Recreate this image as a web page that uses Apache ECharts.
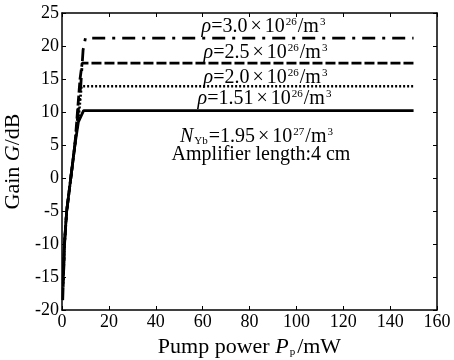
<!DOCTYPE html>
<html><head><meta charset="utf-8">
<script src="https://cdn.jsdelivr.net/npm/echarts@6/dist/echarts.min.js"></script>
<style>html,body{margin:0;padding:0;background:#fff}#c{width:454px;height:360px}</style>
</head><body><div id="c"></div>
<script>
// Data
var pump151 = [0.5, 1, 2, 5.5, 7, 9.2, 150];
var gain151 = [-15.5, -10, -5, 5, 8.5, 10.2, 10.2];
var pump20 = [0.5, 1, 2, 5.5, 7.3, 8.3, 150];
var gain20 = [-16, -10, -5, 5, 10, 13.9, 13.9];
var pump25 = [0.5, 1, 2, 5.5, 7.7, 8.6, 150];
var gain25 = [-16.5, -10.5, -5, 5, 15, 17.4, 17.4];
var pump30 = [0.3, 1, 2, 5.5, 8, 9, 10, 150];
var gain30 = [-18.5, -10.5, -5, 5, 14, 19.4, 21.2, 21.2];
var xTicks = {min: 0, max: 160, interval: 20};
var yTicks = {min: -20, max: 25, interval: 5};

function pairs(xs, ys){ return xs.map(function(x,i){return [x, ys[i]];}); }
var F = '"Liberation Serif", "Times New Roman", serif';
var chart = echarts.init(document.getElementById('c'), null, {renderer:'canvas'});
var axisCommon = {
  axisLine:{show:true, onZero:false, lineStyle:{color:'#000', width:1.5}},
  axisTick:{show:true, inside:true, length:4, lineStyle:{color:'#000', width:1}},
  splitLine:{show:false}
};
var richName = {
  it:{fontFamily:F, fontStyle:'italic', fontSize:22, color:'#000'},
  n:{fontFamily:F, fontSize:22, color:'#000'},
  sub:{fontFamily:F, fontSize:11, color:'#000', verticalAlign:'bottom', lineHeight:18, padding:[0,2,0,1]}
};
var rich = {
  it:{fontFamily:F, fontStyle:'italic', fontSize:20, color:'#000'},
  n:{fontFamily:F, fontSize:20, color:'#000'},
  x:{fontFamily:F, fontSize:20, color:'#000', padding:[0,3,0,3]},
  sup:{fontFamily:F, fontSize:11, color:'#000', verticalAlign:'top', lineHeight:14, padding:[0,1,0,1]},
  sub:{fontFamily:F, fontSize:11, color:'#000', verticalAlign:'bottom', lineHeight:16, padding:[0,1,0,1]}
};
function rhoText(v){ return '{it|ρ}{n|=' + v + '}{x|×}{n|10}{sup|26}{n|/m}{sup|3}'; }
function txt(x, y, t){
  return {type:'text', x:x, y:y, z:100, style:{text:t, rich:rich, textAlign:'center', textVerticalAlign:'middle', fill:'#000'}};
}
chart.setOption({
  animation:false,
  backgroundColor:'#fff',
  grid:{left:62, right:17, top:13, bottom:50, containLabel:false, outerBoundsMode:'none'},
  xAxis:[
    Object.assign({type:'value', min:xTicks.min, max:xTicks.max, interval:xTicks.interval, position:'bottom',
      name:'{n|Pump power }{it|P}{sub|p}{n|/mW}', nameLocation:'middle', nameGap:24,
      nameTextStyle:{rich:richName},
      axisLabel:{fontFamily:F, fontSize:18, color:'#000', margin:3}}, axisCommon),
    Object.assign({type:'value', min:xTicks.min, max:xTicks.max, interval:xTicks.interval, position:'top',
      axisLabel:{show:false}}, axisCommon)
  ],
  yAxis:[
    Object.assign({type:'value', min:yTicks.min, max:yTicks.max, interval:yTicks.interval, position:'left',
      name:'{n|Gain }{it|G}{n|/dB}', nameLocation:'middle', nameGap:31, nameRotate:90,
      nameTextStyle:{rich:richName},
      axisLabel:{fontFamily:F, fontSize:18, color:'#000', margin:3}}, axisCommon),
    Object.assign({type:'value', min:yTicks.min, max:yTicks.max, interval:yTicks.interval, position:'right',
      axisLabel:{show:false}}, axisCommon)
  ],
  series:[
    {type:'line', data:pairs(pump151, gain151), showSymbol:false, symbol:'none', lineStyle:{color:'#000', width:2.8, type:'solid'}},
    {type:'line', data:pairs(pump20, gain20), showSymbol:false, symbol:'none', lineStyle:{color:'#000', width:2.6, type:[2,2]}},
    {type:'line', data:pairs(pump25, gain25), showSymbol:false, symbol:'none', lineStyle:{color:'#000', width:2.8, type:[10,3]}},
    {type:'line', data:pairs(pump30, gain30), showSymbol:false, symbol:'none', lineStyle:{color:'#000', width:2.8, type:[13,7,3,7]}}
  ],
  graphic:[
    txt(264, 27, rhoText('3.0')),
    txt(266, 53, rhoText('2.5')),
    txt(266, 78, rhoText('2.0')),
    txt(265, 99, rhoText('1.51')),
    txt(257, 137, '{it|N}{sub|Yb}{n|=1.95}{x|×}{n|10}{sup|27}{n|/m}{sup|3}'),
    txt(261, 155, '{n|Amplifier length:4 cm}')
  ]
});
</script></body></html>
